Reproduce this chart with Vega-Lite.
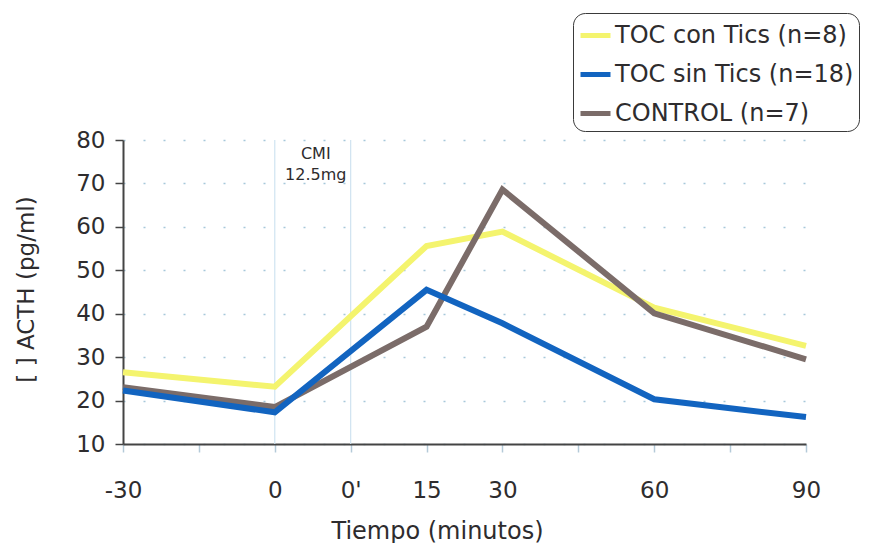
{
  "$schema": "https://vega.github.io/schema/vega-lite/v6.json",
  "width": 683,
  "height": 304,
  "autosize": "none",
  "padding": {"left": 123, "top": 140, "right": 77, "bottom": 99},
  "background": "white",
  "config": {"font": "DejaVu Sans", "view": {"stroke": null}},
  "datasets": {
    "acth": [
      {"grupo": "TOC con Tics (n=8)", "tiempo": "-30", "slot": 0, "v": 26.5},
      {"grupo": "TOC con Tics (n=8)", "tiempo": "0", "slot": 2, "v": 23.2},
      {"grupo": "TOC con Tics (n=8)", "tiempo": "15", "slot": 4, "v": 55.6},
      {"grupo": "TOC con Tics (n=8)", "tiempo": "30", "slot": 5, "v": 58.9},
      {"grupo": "TOC con Tics (n=8)", "tiempo": "60", "slot": 7, "v": 41.4},
      {"grupo": "TOC con Tics (n=8)", "tiempo": "90", "slot": 9, "v": 32.6},
      {"grupo": "CONTROL (n=7)", "tiempo": "-30", "slot": 0, "v": 23.1},
      {"grupo": "CONTROL (n=7)", "tiempo": "0", "slot": 2, "v": 18.5},
      {"grupo": "CONTROL (n=7)", "tiempo": "15", "slot": 4, "v": 37.0},
      {"grupo": "CONTROL (n=7)", "tiempo": "30", "slot": 5, "v": 68.6},
      {"grupo": "CONTROL (n=7)", "tiempo": "60", "slot": 7, "v": 40.1},
      {"grupo": "CONTROL (n=7)", "tiempo": "90", "slot": 9, "v": 29.5},
      {"grupo": "TOC sin Tics (n=18)", "tiempo": "-30", "slot": 0, "v": 22.3},
      {"grupo": "TOC sin Tics (n=18)", "tiempo": "0", "slot": 2, "v": 17.3},
      {"grupo": "TOC sin Tics (n=18)", "tiempo": "15", "slot": 4, "v": 45.5},
      {"grupo": "TOC sin Tics (n=18)", "tiempo": "30", "slot": 5, "v": 37.8},
      {"grupo": "TOC sin Tics (n=18)", "tiempo": "60", "slot": 7, "v": 20.3},
      {"grupo": "TOC sin Tics (n=18)", "tiempo": "90", "slot": 9, "v": 16.2}
    ],
    "cmi": [{"slot": 2}, {"slot": 3}],
    "note": [
      {"slot": 2.54, "v": 76.8, "text": "CMI"},
      {"slot": 2.54, "v": 71.9, "text": "12.5mg"}
    ]
  },
  "layer": [
    {
      "data": {"name": "cmi"},
      "mark": {"type": "rule", "color": "#cfe3f1", "strokeWidth": 1.2},
      "encoding": {
        "x": {"field": "slot", "type": "quantitative", "scale": {"domain": [0, 9]}}
      }
    },
    {
      "data": {"name": "acth"},
      "mark": {"type": "line", "strokeWidth": 6, "strokeJoin": "miter", "strokeCap": "butt"},
      "encoding": {
        "x": {
          "field": "slot",
          "type": "quantitative",
          "scale": {"domain": [0, 9], "nice": false, "zero": false},
          "axis": {
            "values": [0, 1, 2, 3, 4, 5, 6, 7, 8, 9],
            "labelExpr": "[\"-30\",\"\",\"0\",\"0'\",\"15\",\"30\",\"\",\"60\",\"\",\"90\"][datum.value]",
            "grid": false,
            "domainColor": "#444444",
            "domainWidth": 2,
            "tickColor": "#b4cad8",
            "tickSize": 8,
            "tickWidth": 1.5,
            "labelFontSize": 23,
            "labelColor": "#2e2c2e",
            "labelPadding": 27,
            "labelFlush": false,
            "labelOverlap": false,
            "title": "Tiempo (minutos)",
            "titleFontSize": 24,
            "titleFontWeight": "normal",
            "titleColor": "#2e2c2e",
            "titleX": 314,
            "titleY": 94,
            "titleAlign": "center",
            "titleBaseline": "alphabetic"
          }
        },
        "y": {
          "field": "v",
          "type": "quantitative",
          "scale": {"domain": [10, 80], "nice": false, "zero": false},
          "axis": {
            "values": [10, 20, 30, 40, 50, 60, 70, 80],
            "grid": true,
            "gridColor": "#a6c8da",
            "gridDash": [2, 18],
            "gridWidth": 1.5,
            "domainColor": "#444444",
            "domainWidth": 2,
            "tickColor": "#444444",
            "tickSize": 8,
            "tickWidth": 1.5,
            "labelFontSize": 23,
            "labelColor": "#2e2c2e",
            "labelPadding": 10,
            "labelFlush": false,
            "labelOverlap": false,
            "title": "[ ] ACTH (pg/ml)",
            "titleFontSize": 23,
            "titleFontWeight": "normal",
            "titleColor": "#2e2c2e",
            "titleAngle": -90,
            "titleX": -97,
            "titleY": 149,
            "titleAlign": "center",
            "titleBaseline": "middle"
          }
        },
        "color": {
          "field": "grupo",
          "type": "nominal",
          "scale": {
            "domain": ["TOC con Tics (n=8)", "TOC sin Tics (n=18)", "CONTROL (n=7)"],
            "range": ["#f4f46e", "#1264c0", "#7b6c69"]
          },
          "legend": {
            "title": null,
            "orient": "none",
            "legendX": 450,
            "legendY": -127,
            "symbolType": "stroke",
            "symbolSize": 900,
            "symbolStrokeWidth": 5,
            "labelFontSize": 24,
            "labelColor": "#2e2c2e",
            "labelOffset": 2,
            "labelLimit": 400,
            "rowPadding": 9,
            "padding": 5,
            "strokeColor": "#3a3a3a",
            "cornerRadius": 12,
            "fillColor": "white"
          }
        }
      }
    },
    {
      "data": {"name": "note"},
      "mark": {"type": "text", "fontSize": 16, "color": "#2e2c2e", "align": "center", "baseline": "middle"},
      "encoding": {
        "x": {"field": "slot", "type": "quantitative"},
        "y": {"field": "v", "type": "quantitative"},
        "text": {"field": "text"}
      }
    }
  ]
}
